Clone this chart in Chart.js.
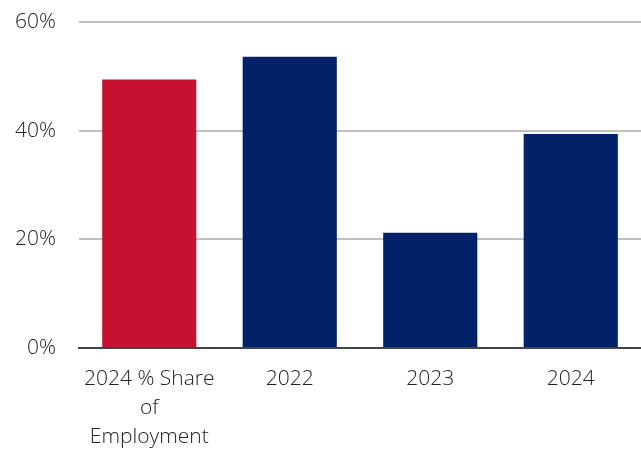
<!DOCTYPE html>
<html>
<head>
<meta charset="utf-8">
<script src="https://cdn.jsdelivr.net/npm/chart.js@4"></script>
<style>
  html, body { margin: 0; padding: 0; background: #fff; }
  #wrap { width: 641px; height: 449px; }
</style>
</head>
<body>
<div id="wrap"><canvas id="chart"></canvas></div>
<script>
const categories = [["2024 % Share", "of", "Employment"], "2022", "2023", "2024"];
const values = [49.4, 53.6, 21.2, 39.4];
const barColors = ["#C41230", "#012169", "#012169", "#012169"];
const yTicks = [0, 20, 40, 60];

const ctx = document.getElementById("chart");
Chart.defaults.font.family = "'Open Sans', 'Noto Sans', sans-serif";
Chart.defaults.color = "#222";

new Chart(ctx, {
  type: "bar",
  data: {
    labels: categories,
    datasets: [
      {
        data: values,
        backgroundColor: barColors,
        borderWidth: 0,
        barPercentage: 0.67,
        categoryPercentage: 1,
      },
    ],
  },
  options: {
    responsive: true,
    maintainAspectRatio: false,
    animation: false,
    layout: { padding: { top: 22, right: -3, bottom: 0, left: 0 } },
    plugins: {
      legend: { display: false },
      tooltip: { enabled: false },
    },
    scales: {
      x: {
        grid: { display: false, drawTicks: false },
        border: { display: true, color: "#444", width: 2 },
        ticks: {
          font: { size: 21, weight: 300, lineHeight: 1.4 },
          color: "#222",
          padding: 16,
          maxRotation: 0,
          autoSkip: false,
        },
        afterFit: (scale) => {
          scale.height = 101;
          scale.paddingLeft = 0;
          scale.paddingRight = 0;
        },
      },
      y: {
        min: 0,
        max: 60,
        afterBuildTicks: (scale) => {
          scale.ticks = yTicks.map((v) => ({ value: v }));
        },
        grid: {
          color: (c) => (c.tick && c.tick.value === 0 ? "rgba(0,0,0,0)" : "#c0c0c0"),
          lineWidth: 2,
          drawTicks: false,
        },
        border: { display: false },
        ticks: {
          font: { size: 21, weight: 300 },
          color: "#222",
          padding: 23,
          callback: (v) => v + "%",
        },
        afterFit: (scale) => {
          scale.width = 79;
          scale.paddingTop = 0;
          scale.paddingBottom = 0;
        },
      },
    },
  },
});
</script>
</body>
</html>
